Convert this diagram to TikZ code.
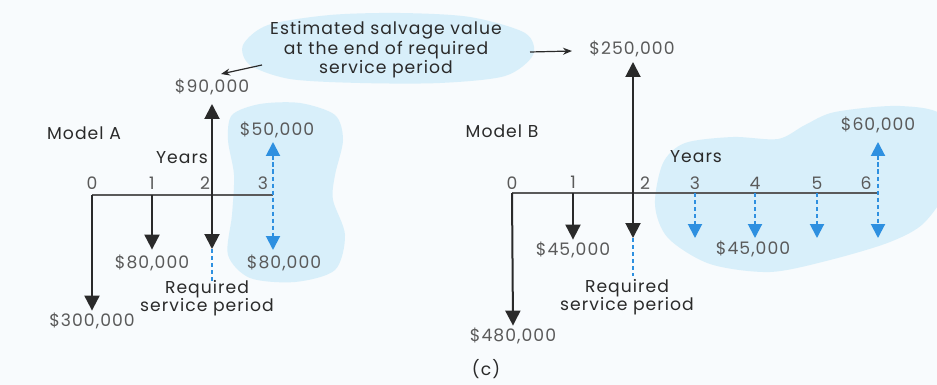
\documentclass[tikz,border=0pt]{standalone}
\usepackage{fontspec}
\setmainfont{Poppins}[LetterSpace=6]
\usetikzlibrary{arrows.meta}
\definecolor{bgc}{HTML}{F8FBFD}
\definecolor{blobc}{HTML}{D8EFFA}
\definecolor{cfblue}{HTML}{2E90E0}
\definecolor{txtgray}{HTML}{5A5A5A}
\definecolor{darkc}{HTML}{2A2A2A}
\begin{document}
\begin{tikzpicture}[x=0.5pt,y=-0.5pt,
  font=\fontsize{8.6}{9}\selectfont,
  cf/.style={draw=darkc, line width=1pt, -{Triangle[width=7.5pt,length=7.5pt]}},
  cfboth/.style={draw=darkc, line width=1pt, {Triangle[width=7.5pt,length=7.5pt]}-{Triangle[width=7.5pt,length=7.5pt]}},
  cfb/.style={draw=cfblue, line width=1pt, dash pattern=on 2.2pt off 1.3pt, -{Triangle[width=7pt,length=7pt]}},
  cfbboth/.style={draw=cfblue, line width=1pt, dash pattern=on 2.2pt off 1.3pt, {Triangle[width=7pt,length=7pt]}-{Triangle[width=7pt,length=7pt]}},
  reqline/.style={draw=cfblue, line width=1pt, dash pattern=on 2.2pt off 1.3pt},
  axisline/.style={draw=txtgray, line width=0.6pt},
  val/.style={text=txtgray, inner sep=1pt},
  tick/.style={text=txtgray, inner sep=1pt},
  lbl/.style={text=darkc, inner sep=1pt},
  blobfill/.style={fill=blobc},
  pointer/.style={draw=darkc, line width=0.6pt, -{Stealth[width=3.5pt,length=4.5pt]}}
]
\fill[bgc] (0,0) rectangle (937,385);
\useasboundingbox (0,0) rectangle (937,385);
\begin{scope}
\clip (0,0) rectangle (937,385);
% blobs
\fill[blobfill] plot[smooth cycle] coordinates {(243,45) (268,25) (330,15) (400,13) (470,17) (525,33) (533,55) (505,76) (440,83) (360,83) (290,79) (250,65)};
\fill[blobfill] plot[smooth cycle] coordinates {(232,115) (260,104) (300,103) (335,115) (343,140) (335,175) (333,200) (345,235) (335,270) (295,282) (250,278) (228,255) (232,215) (234,175) (228,140)};
\fill[blobfill] plot[smooth cycle] coordinates {(655,205) (663,163) (685,143) (733,137) (778,139) (805,125) (835,112) (900,106) (945,118) (950,180) (925,222) (890,242) (830,260) (770,272) (710,264) (668,238)};
\end{scope}

% callout
\node[lbl, align=center, font=\fontsize{8.6}{8.6}\selectfont] (callout) at (386,50) {Estimated salvage value\\at the end of required\\service period};
\coordinate (cl1) at (262,65);
\coordinate (cl2) at (221,74);
\coordinate (cr1) at (530,52);
\coordinate (cr2) at (572,51);
\draw[pointer] (cl1) -- (cl2);
\draw[pointer] (cr1) -- (cr2);

% ---------------- Model A
\node[lbl] (modelA) at (84,133) {Model A};
\node[lbl] (yearsA) at (182,158) {Years};
\node[tick] (tA0) at (92,183) {0};
\node[tick] (tA1) at (152,183) {1};
\node[tick] (tA2) at (205,183) {2};
\node[tick] (tA3) at (263,183) {3};
\coordinate (A0) at (92,195);
\coordinate (A1) at (152,195);
\coordinate (A3) at (273,195);
\draw[axisline] (A0) -- (A3);

\node[val] (A300) at (92,321) {\$300,000};
\node[val] (A80a) at (152,263) {\$80,000};
\node[val] (A90) at (212,87) {\$90,000};
\node[val] (A50) at (277,130) {\$50,000};
\node[val] (A80b) at (284,263) {\$80,000};
\node[lbl, align=center] (reqA) at (207,298) {Required\\service period};

\coordinate (A2u) at (212,104);
\coordinate (A2d) at (212,249);
\coordinate (A2r) at (212,282);
\coordinate (A3u) at (273,142);
\coordinate (A3d) at (273,250);

\draw[cf] (A0) -- (A300.north);
\draw[cf, shorten >=1.5pt] (A1) -- (A80a.north);
\draw[cfboth] (A2u) -- (A2d);
\draw[reqline] (A2d) -- (A2r);
\draw[cfbboth] (A3u) -- (A3d);

% ---------------- Model B
\node[lbl] (modelB) at (502,131) {Model B};
\node[lbl] (yearsB) at (696,157) {Years};
\node[tick] (tB0) at (512,183) {0};
\node[tick] (tB1) at (573,182) {1};
\node[tick] (tB2) at (645,183) {2};
\node[tick] (tB3) at (695,183) {3};
\node[tick] (tB4) at (755,183) {4};
\node[tick] (tB5) at (817,183) {5};
\node[tick] (tB6) at (866,183) {6};
\coordinate (B0) at (512,193);
\coordinate (B1) at (573,193);
\coordinate (B3) at (695,193);
\coordinate (B4) at (755,193);
\coordinate (B5) at (817,193);
\coordinate (B6) at (878,193);
\draw[axisline] (B0) -- (B6);

\node[val] (B480) at (513,336) {\$480,000};
\node[val] (B45a) at (573,250) {\$45,000};
\node[val] (B250) at (632,49) {\$250,000};
\node[val] (B45b) at (753,249) {\$45,000};
\node[val] (B60) at (878,125) {\$60,000};
\node[lbl, align=center] (reqB) at (627,297) {Required\\service period};

\coordinate (B2u) at (633,62);
\coordinate (B2d) at (633,238);
\coordinate (B2r) at (633,276);
\coordinate (B3d) at (695,238);
\coordinate (B4d) at (755,238);
\coordinate (B5d) at (817,238);
\coordinate (B6u) at (878,142);
\coordinate (B6d) at (878,238);

\draw[cf] (B0) -- (B480.north);
\draw[cf] (B1) -- (B45a.north);
\draw[cfboth] (B2u) -- (B2d);
\draw[reqline] (B2d) -- (B2r);
\draw[cfb] (B3) -- (B3d);
\draw[cfb] (B4) -- (B4d);
\draw[cfb] (B5) -- (B5d);
\draw[cfbboth] (B6u) -- (B6d);

\node[lbl] (cap) at (486,369) {(c)};
\end{tikzpicture}
\end{document}
